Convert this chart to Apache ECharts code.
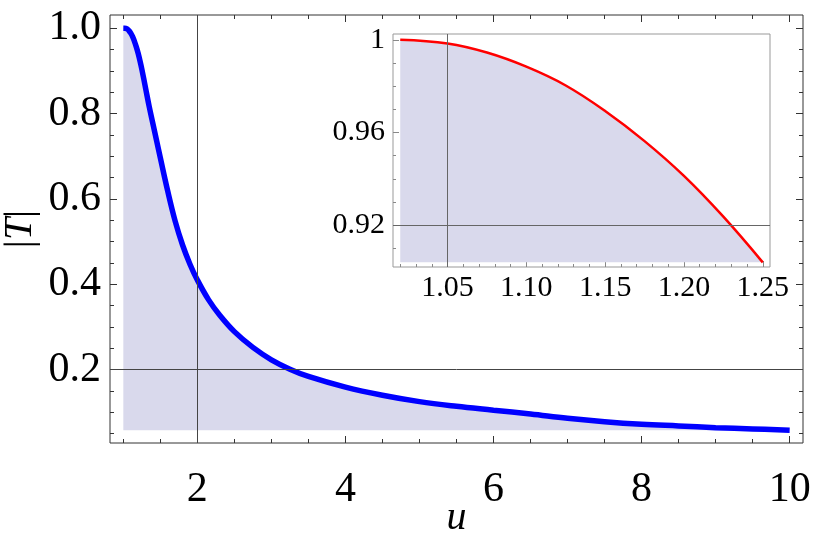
<!DOCTYPE html>
<html>
<head>
<meta charset="utf-8">
<script src="https://cdn.jsdelivr.net/npm/echarts@6/dist/echarts.min.js"></script>
<style>
  html, body { margin: 0; padding: 0; background: #fff; }
  #chart { width: 814px; height: 538px; }
</style>
</head>
<body>
<div id="chart"></div>
<script>
// main curve |T|(u)
const mainU = [1.00, 1.02, 1.05, 1.075, 1.10, 1.125, 1.15, 1.175, 1.20, 1.225, 1.25, 1.30, 1.35, 1.40, 1.45,
  1.50, 1.60, 1.70, 1.80, 1.90, 2.00, 2.15, 2.30, 2.50, 2.75, 3.00, 3.25, 3.50, 4.00, 4.50,
  5.00, 5.50, 6.00, 6.50, 7.00, 7.50, 8.00, 8.50, 9.00, 9.50, 10.00]
const mainT = [1.000, 1.000, 0.9984, 0.9945, 0.9884, 0.9803, 0.9693, 0.9563, 0.9413, 0.9237, 0.904, 0.860, 0.816, 0.776, 0.736,
  0.696, 0.618, 0.548, 0.492, 0.447, 0.410, 0.364, 0.328, 0.289, 0.252, 0.223, 0.201, 0.184, 0.159, 0.140,
  0.125, 0.114, 0.105, 0.096, 0.086, 0.078, 0.072, 0.068, 0.064, 0.061, 0.058]

// inset curve (zoom on 1.02 .. 1.25)
const insetU = [1.02, 1.05, 1.075, 1.10, 1.125, 1.15, 1.175, 1.20, 1.225, 1.25]
const insetT = [1.000, 0.9984, 0.9945, 0.9884, 0.9803, 0.9693, 0.9563, 0.9413, 0.9237, 0.904]

// ticks
const mainXMajor = [2, 4, 6, 8, 10]
const mainYMajor = [0.2, 0.4, 0.6, 0.8, 1.0]
const insetXMajor = [1.05, 1.10, 1.15, 1.20, 1.25]
const insetYMajor = [0.92, 0.96, 1.00]

const mainOrigin = [2, 0.2]
const insetOrigin = [1.05, 0.92]
const mainFillBase = 0.058
const insetFillBase = 0.904

const serif = 'Liberation Serif'
const fillColor = '#d9d9ec'

function steps (a, b, step, skip) {
  const out = []
  for (let v = a; v <= b + 1e-9; v += step) {
    const r = Math.round(v * 1000) / 1000
    if (!skip.some(s => Math.abs(s - r) < 1e-6)) out.push(r)
  }
  return out
}

const mainXMinor = steps(1, 9.5, 0.5, mainXMajor)
const mainYMinor = steps(0.05, 0.95, 0.05, mainYMajor)
const insetXMinor = steps(1.02, 1.24, 0.01, insetXMajor)
const insetYMinor = steps(0.91, 0.99, 0.01, insetYMajor)

function tickAxis (grid, pos, min, max, ticks, len, color, label) {
  return {
    type: 'value',
    gridIndex: grid,
    position: pos,
    min: min,
    max: max,
    axisLine: { show: false },
    splitLine: { show: false },
    axisTick: { show: true, inside: true, length: len, customValues: ticks, lineStyle: { color: color, width: 1 } },
    axisLabel: label ? Object.assign({ customValues: ticks }, label) : { show: false }
  }
}

const mainX = [0.82, 10.18]
const mainY = [0.028, 1.031]
const insX = [1.0154, 1.2546]
const insY = [0.902, 1.0025]

const xAxes = [
  Object.assign(tickAxis(0, 'bottom', mainX[0], mainX[1], mainXMajor, 7, '#333', {
    fontFamily: serif, fontSize: 42, color: '#000', margin: 26
  }), {
    name: 'u',
    nameLocation: 'middle',
    nameGap: 55,
    nameMoveOverlap: false,
    nameTextStyle: { fontFamily: serif, fontSize: 40, fontStyle: 'italic', color: '#000' }
  }),
  tickAxis(0, 'bottom', mainX[0], mainX[1], mainXMinor, 4, '#333'),
  tickAxis(0, 'top', mainX[0], mainX[1], mainXMajor, 7, '#333'),
  tickAxis(0, 'top', mainX[0], mainX[1], mainXMinor, 4, '#333'),
  tickAxis(1, 'bottom', insX[0], insX[1], insetXMajor, 6, '#888', {
    fontFamily: serif, fontSize: 30, color: '#000', margin: 6,
    formatter: v => v.toFixed(2)
  }),
  tickAxis(1, 'bottom', insX[0], insX[1], insetXMinor, 3, '#888')
]

const yAxes = [
  Object.assign(tickAxis(0, 'left', mainY[0], mainY[1], mainYMajor, 7, '#333', {
    fontFamily: serif, fontSize: 42, color: '#000', margin: 9,
    formatter: v => v.toFixed(1)
  }), {
    name: '|{i|T}|',
    nameLocation: 'middle',
    nameRotate: 90,
    nameGap: 70,
    nameMoveOverlap: false,
    nameTextStyle: {
      fontFamily: serif, fontSize: 40, color: '#000',
      rich: { i: { fontFamily: serif, fontSize: 40, fontStyle: 'italic', color: '#000' } }
    }
  }),
  tickAxis(0, 'left', mainY[0], mainY[1], mainYMinor, 4, '#333'),
  tickAxis(0, 'right', mainY[0], mainY[1], mainYMajor, 7, '#333'),
  tickAxis(0, 'right', mainY[0], mainY[1], mainYMinor, 4, '#333'),
  tickAxis(1, 'left', insY[0], insY[1], insetYMajor, 6, '#888', {
    fontFamily: serif, fontSize: 30, color: '#000', margin: 8,
    formatter: v => (Math.abs(v - 1) < 1e-9 ? '1' : v.toFixed(2))
  }),
  tickAxis(1, 'left', insY[0], insY[1], insetYMinor, 3, '#888')
]

const mainPts = mainU.map((u, i) => [u, mainT[i]])
const insetPts = insetU.map((u, i) => [u, insetT[i]])

function originLines (xi, yi, origin, color, z) {
  return {
    type: 'line',
    xAxisIndex: xi,
    yAxisIndex: yi,
    data: [origin],
    symbol: 'none',
    lineStyle: { width: 0 },
    silent: true,
    z: z,
    markLine: {
      silent: true,
      symbol: 'none',
      label: { show: false },
      lineStyle: { color: color, width: 1, type: 'solid' },
      data: [{ xAxis: origin[0] }, { yAxis: origin[1] }]
    }
  }
}

const option = {
  animation: false,
  backgroundColor: '#fff',
  grid: [
    { left: 110, top: 15, right: 11, bottom: 95, outerBoundsMode: 'none', containLabel: false, show: true, borderColor: '#333', borderWidth: 1, backgroundColor: 'transparent' },
    { left: 393, top: 34, right: 44, bottom: 271, outerBoundsMode: 'none', containLabel: false, show: true, borderColor: '#999', borderWidth: 1, backgroundColor: 'transparent' }
  ],
  xAxis: xAxes,
  yAxis: yAxes,
  series: [
    {
      type: 'line', xAxisIndex: 0, yAxisIndex: 0, data: mainPts,
      smooth: 0.4, symbol: 'none', z: 1,
      lineStyle: { width: 0 },
      areaStyle: { color: fillColor, opacity: 1, origin: mainFillBase }
    },
    originLines(0, 0, mainOrigin, '#444', 2),
    {
      type: 'line', xAxisIndex: 0, yAxisIndex: 0, data: mainPts,
      smooth: 0.4, symbol: 'none', z: 3,
      lineStyle: { color: '#0000ff', width: 5.5, cap: 'butt' }
    },
    {
      type: 'line', xAxisIndex: 4, yAxisIndex: 4, data: insetPts,
      smooth: 0.4, symbol: 'none', z: 1,
      lineStyle: { width: 0 },
      areaStyle: { color: fillColor, opacity: 1, origin: insetFillBase }
    },
    originLines(4, 4, insetOrigin, '#666', 2),
    {
      type: 'line', xAxisIndex: 4, yAxisIndex: 4, data: insetPts,
      smooth: 0.4, symbol: 'none', z: 3,
      lineStyle: { color: '#ff0000', width: 2.5 }
    }
  ]
}

const myChart = echarts.init(document.getElementById('chart'))
myChart.setOption(option)
</script>
</body>
</html>
